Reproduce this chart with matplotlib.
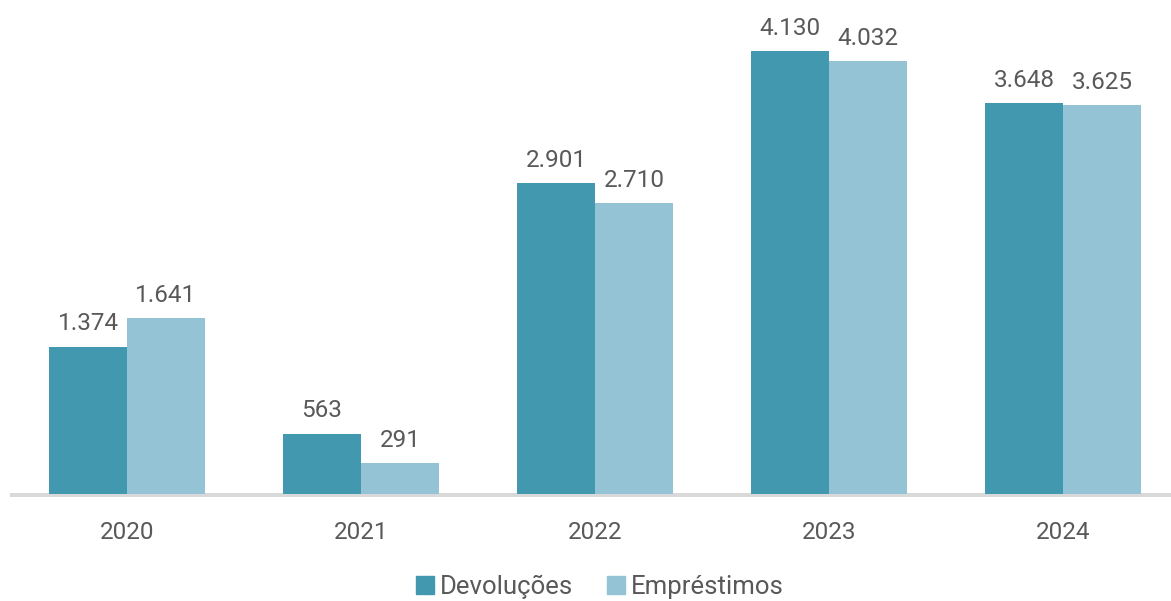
import numpy as np
import matplotlib
matplotlib.use("Agg")
from matplotlib import pyplot as plt
from matplotlib.patches import Patch

anos = ["2020", "2021", "2022", "2023", "2024"]
devolucoes = [1374, 563, 2901, 4130, 3648]
emprestimos = [1641, 291, 2710, 4032, 3625]
series_nomes = ["Devoluções", "Empréstimos"]

cor_dev = "#4198af"
cor_emp = "#93c3d4"
cor_txt = "#595959"

plt.rcParams['font.family'] = ['Roboto', 'DejaVu Sans']

fig = plt.figure(figsize=(11.71, 6.01), dpi=100)
W, H = 1171, 601
# axes in pixel terms
left, right = 10, 1171
bottom, top = 104, 579
ax = fig.add_axes([left / W, bottom / H, (right - left) / W, (top - bottom) / H])

x = np.arange(len(anos))
w = 0.333
b1 = ax.bar(x - w / 2, devolucoes, w, color=cor_dev, zorder=2)
b2 = ax.bar(x + w / 2, emprestimos, w, color=cor_emp, zorder=2)

def fmt(v):
    return f"{v:,}".replace(",", ".")

for bars, vals in [(b1, devolucoes), (b2, emprestimos)]:
    for r, v in zip(bars, vals):
        ax.annotate(fmt(v), (r.get_x() + r.get_width() / 2, v),
                    xytext=(0, 8), textcoords="offset points",
                    ha="center", va="bottom", fontsize=17.5, color=cor_txt,
                    clip_on=False)

ax.axhline(-14, color="#d9d9d9", lw=3.6, zorder=1)
ax.set_xlim(-0.5, 4.4615)
ax.set_ylim(-28, 4400)
for s in ax.spines.values():
    s.set_visible(False)
ax.set_yticks([])
ax.set_xticks(x)
ax.set_xticklabels(anos, fontsize=17.5, color=cor_txt)
ax.tick_params(axis="x", length=0, pad=17)

handles = [Patch(color=cor_dev), Patch(color=cor_emp)]
fig.legend(handles, series_nomes, loc="center", bbox_to_anchor=(600 / W, 1 - 587 / H),
           ncol=2, frameon=False, fontsize=18.5, handlelength=0.7, handleheight=0.7,
           handletextpad=0.25, columnspacing=1.3, labelcolor=cor_txt)

fig.savefig("out.png", dpi=100)
